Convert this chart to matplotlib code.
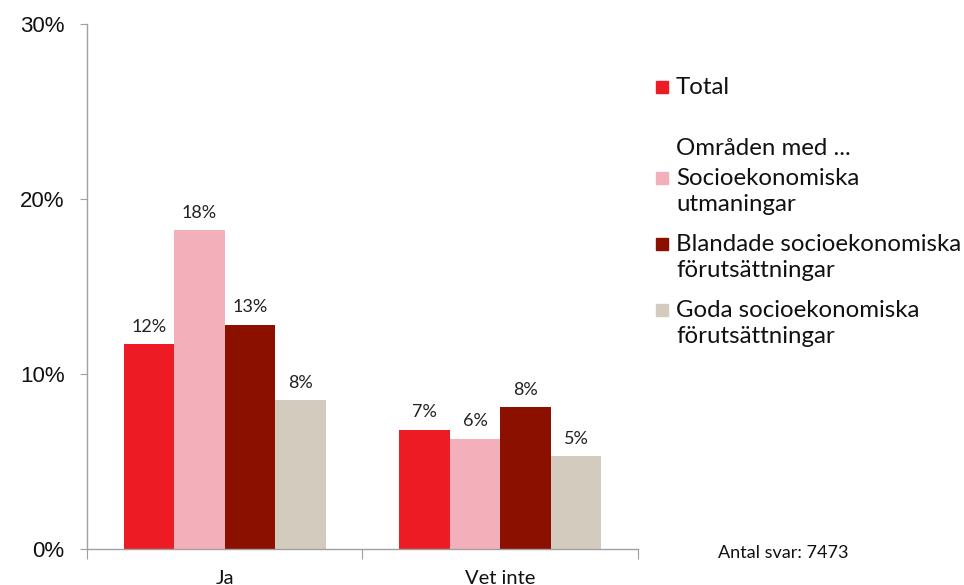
import matplotlib.pyplot as plt
import numpy as np
from matplotlib.patches import Rectangle

kategorier = ['Ja', 'Vet inte']
serier = ['Total', 'Socioekonomiska\nutmaningar', 'Blandade socioekonomiska\nförutsättningar',
          'Goda socioekonomiska\nförutsättningar']
total = [11.7, 6.8]
utmaningar = [18.2, 6.3]
blandade = [12.8, 8.1]
goda = [8.5, 5.3]
etiketter = [['12%', '7%'], ['18%', '6%'], ['13%', '8%'], ['8%', '5%']]
farger = ['#ED1C24', '#F4B0BA', '#8B1000', '#D3CBBE']

plt.rcParams['font.family'] = ['Lato', 'DejaVu Sans']

fig = plt.figure(figsize=(9.64, 5.85), dpi=100)
ax = fig.add_axes([0.090, 0.0615, 0.572, 0.8975])

x = np.arange(len(kategorier))
b = 0.183
data = [total, utmaningar, blandade, goda]
for i, (varden, farg) in enumerate(zip(data, farger)):
    pos = x + (i - 1.5) * b
    ax.bar(pos, varden, width=b, color=farg, edgecolor='none')
    for px, v, t in zip(pos, varden, etiketter[i]):
        ax.text(px, v + 0.55, t, ha='center', va='bottom', fontsize=13, color='#222222')

ax.set_xlim(-0.5, 1.5)
ax.set_ylim(0, 30)
ax.set_yticks([0, 10, 20, 30])
ax.set_yticklabels(['0%', '10%', '20%', '30%'], fontsize=16,
                   family=['Liberation Sans', 'DejaVu Sans'], color='#111111')
ax.set_xticks([-0.5, 0.5, 1.5], minor=False)
ax.set_xticklabels([])
ax.set_xticks(x, minor=True)
ax.set_xticklabels(kategorier, minor=True, fontsize=14.5, color='#111111')
ax.tick_params(axis='x', which='major', length=7, color='#A0A0A0', direction='out')
ax.tick_params(axis='x', which='minor', length=0, pad=15)
ax.tick_params(axis='y', length=5, color='#A0A0A0', direction='out', pad=11)
for s in ['top', 'right']:
    ax.spines[s].set_visible(False)
for s in ['left', 'bottom']:
    ax.spines[s].set_color('#A0A0A0')
    ax.spines[s].set_linewidth(1)

# förklaring
W, H = 964, 585
def ruta(ypix, farg):
    fig.add_artist(Rectangle((656 / W, 1 - (ypix + 6) / H), 12 / W, 12 / H,
                             transform=fig.transFigure, color=farg))

rader = [(87, 'Total', farger[0]),
         (178, serier[1], farger[1]),
         (244, serier[2], farger[2]),
         (310, serier[3], farger[3])]
for ypix, txt, farg in rader:
    ruta(ypix, farg)
    fig.text(676 / W, 1 - (ypix - 10) / H, txt, fontsize=17.3, va='top', ha='left',
             linespacing=1.3, color='#111111')
fig.text(676 / W, 1 - (148 - 10) / H, 'Områden med ...', fontsize=17.3, va='top', ha='left',
         color='#111111')

fig.text(718 / W, 1 - 553 / H, 'Antal svar: 7473', fontsize=13, va='center', ha='left',
         color='#111111')

fig.savefig('out.png', dpi=100)
